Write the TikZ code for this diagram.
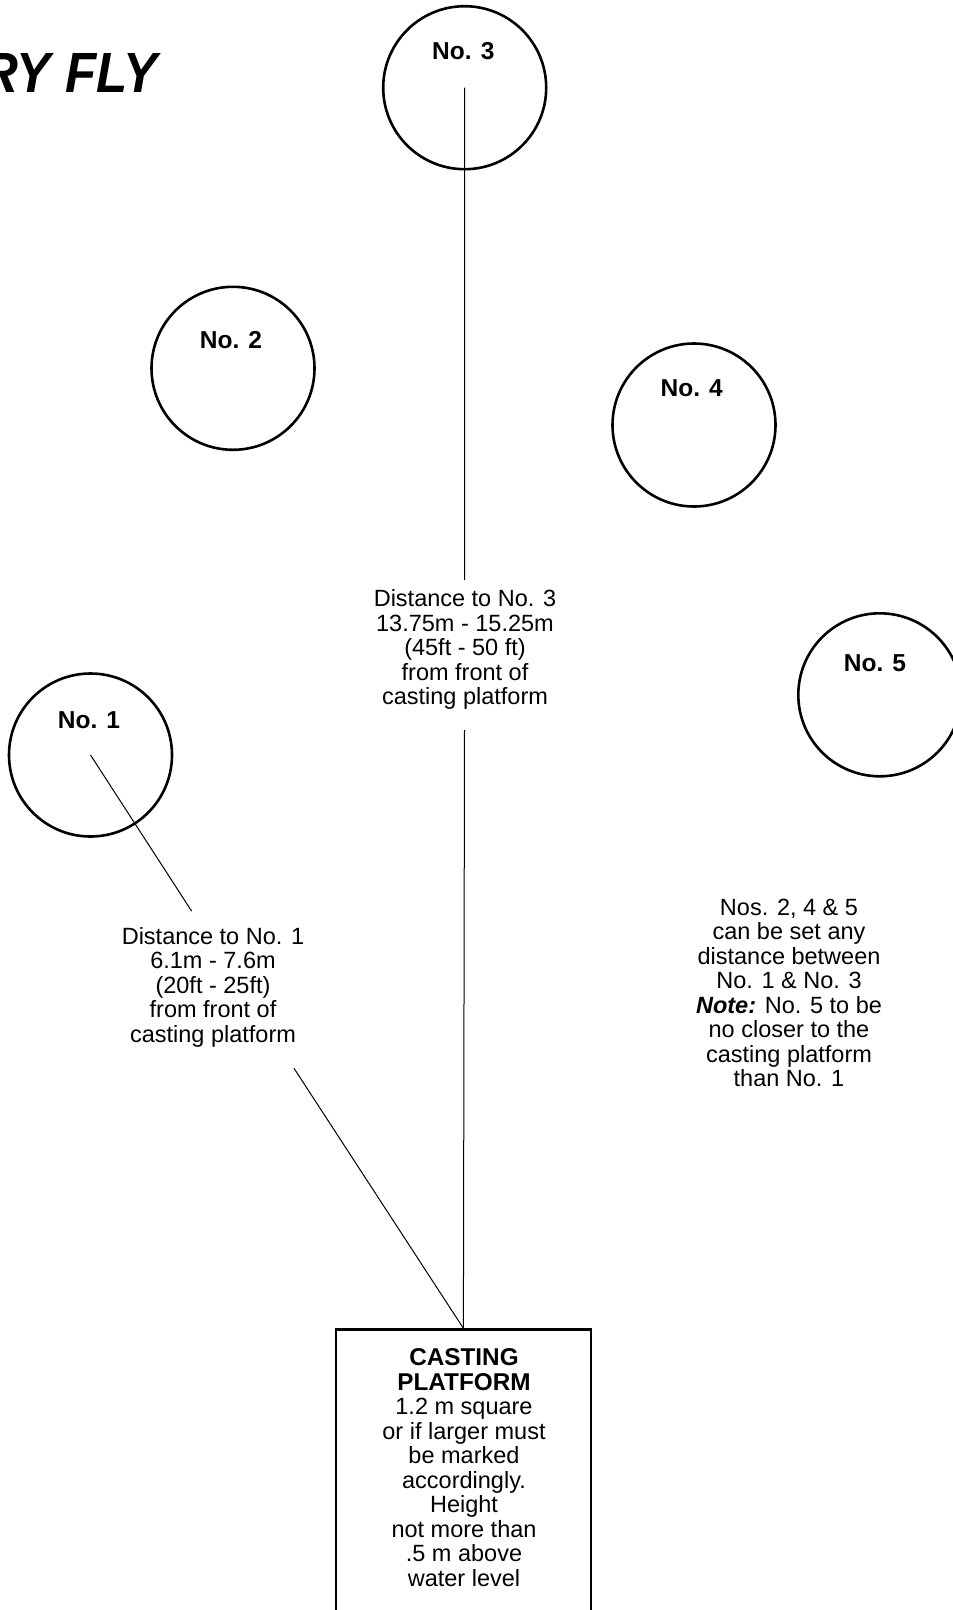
\documentclass[tikz,border=0pt]{standalone}
\usepackage{fontspec}
\usepackage{graphicx}
\setmainfont{Liberation Sans}
\tikzset{
  target/.style={circle, draw, line width=2.6pt, minimum size=163pt, inner sep=0pt},
  tlabel/.style={anchor=base, inner sep=0pt, font=\fontsize{24.5}{26}\selectfont\bfseries},
  body/.style={anchor=base, inner sep=0pt, align=center, font=\fontsize{23.5}{24.5}\selectfont},
  conn/.style={line width=1pt},
  platbox/.style={draw, line width=2.7pt, minimum width=255pt, minimum height=330pt, inner sep=0pt, anchor=north}
}
\begin{document}
\begin{tikzpicture}[x=1pt,y=-1pt]
\useasboundingbox (0,0) rectangle (953,1610);
% title
\node[anchor=base east, inner sep=0pt] (title) at (158,92.3)
  {\scalebox{0.9}[1]{\fontsize{56.7}{60}\selectfont\bfseries\itshape RY FLY}};
% targets
\node[target] (c1) at (90.5,755) {};
\node[target] (c2) at (233,368.3) {};
\node[target] (c3) at (464.7,87.7) {};
\node[target] (c4) at (694,425) {};
\node[target] (c5) at (879.8,694.8) {};
\node[tlabel] (l1) at (89,728.3) {No. 1};
\node[tlabel] (l2) at (231,348.3) {No. 2};
\node[tlabel] (l3) at (463.3,59.3) {No. 3};
\node[tlabel] (l4) at (691.7,396.7) {No. 4};
\node[tlabel] (l5) at (875,671.7) {No. 5};
% platform
\node[platbox] (plat) at (463.4,1328.3) {};
\node[body] (platT) at (464,1586) {{\fontsize{24.3}{24.5}\selectfont\bfseries CASTING}\\{\fontsize{24.3}{24.5}\selectfont\bfseries PLATFORM}\\1.2 m square\\or if larger must\\be marked\\accordingly.\\Height\\not more than\\.5 m above\\water level};
% distance texts
\node[body] (d3) at (465,704.7) {Distance to No. 3\\13.75m - 15.25m\\(45ft - 50 ft)\\from front of\\casting platform};
\node[body] (d1) at (213,1042.3) {Distance to No. 1\\6.1m - 7.6m\\(20ft - 25ft)\\from front of\\casting platform};
\node[body] (notes) at (789,1086.5) {Nos. 2, 4 \& 5\\can be set any\\distance between\\No. 1 \& No. 3\\\textbf{\textit{Note:}} No. 5 to be\\no closer to the\\casting platform\\than No. 1};
% connectors
\coordinate (g3a) at (464.5,580);
\coordinate (g3b) at (464.5,730);
\coordinate (g1a) at (191.7,911.2);
\coordinate (g1b) at (294,1068.3);
\draw[conn] (c3.center) -- (g3a);
\draw[conn] (g3b) -- (plat.north);
\draw[conn] (c1.center) -- (g1a);
\draw[conn] (g1b) -- (plat.north);
\end{tikzpicture}
\end{document}
